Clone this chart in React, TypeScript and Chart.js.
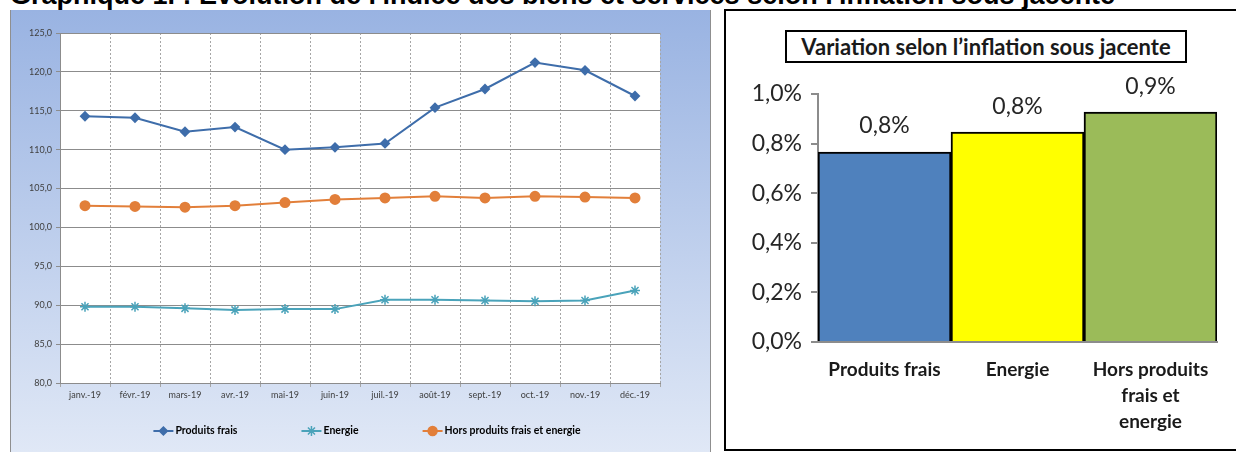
import React, { useEffect, useRef } from "react";
import { Chart, registerables } from "chart.js";
import { drawPoint } from "chart.js/helpers";

Chart.register(...registerables);

// ---------- Data: left line chart ----------
const months = [
  "janv.-19", "févr.-19", "mars-19", "avr.-19", "mai-19", "juin-19",
  "juil.-19", "août-19", "sept.-19", "oct.-19", "nov.-19", "déc.-19",
];
const produitsFrais = [114.3, 114.1, 112.3, 112.9, 110.0, 110.3, 110.8, 115.4, 117.8, 121.2, 120.2, 116.9];
const energie = [89.8, 89.8, 89.6, 89.4, 89.5, 89.5, 90.7, 90.7, 90.6, 90.5, 90.6, 91.9];
const horsProduits = [102.8, 102.7, 102.6, 102.8, 103.2, 103.6, 103.8, 104.0, 103.8, 104.0, 103.9, 103.8];
const lineSeriesNames = ["Produits frais", "Energie", "Hors produits frais et energie"];
const leftYMin = 80;
const leftYMax = 125;
const leftYStep = 5;

// ---------- Data: right bar chart ----------
const barCategories = [["Produits frais"], ["Energie"], ["Hors produits", "frais et", "energie"]];
const barValues = [0.766, 0.846, 0.927];
const rightYMin = 0;
const rightYMax = 1.0;
const rightYStep = 0.2;

const pageTitle =
  "Graphique 1. : Evolution de l'indice des biens et services selon l'inflation sous jacente";
const barTitle = "Variation selon l’inflation sous jacente";

const FONT = "Lato, 'Open Sans', sans-serif";

const fmtComma = (v: number, d: number) => v.toFixed(d).replace(".", ",");

const plotBg = {
  id: "plotBg",
  beforeDraw(chart: any) {
    const { ctx, chartArea: a } = chart;
    ctx.save();
    ctx.fillStyle = "#ffffff";
    ctx.fillRect(a.left, a.top, a.right - a.left, a.bottom - a.top);
    ctx.restore();
  },
};

const lineLegend = {
  id: "lineLegend",
  afterDraw(chart: any) {
    const { ctx, chartArea: a } = chart;
    const ds = chart.data.datasets;
    ctx.save();
    ctx.font = `bold 10.5px ${FONT}`;
    ctx.textBaseline = "middle";
    const lineW = 20;
    const gap = 2;
    const spacing = 64;
    const widths = ds.map((d: any) => lineW + gap + ctx.measureText(d.label).width);
    const total = widths.reduce((s: number, w: number) => s + w, 0) + spacing * (ds.length - 1);
    let x = (a.left + a.right) / 2 + 7 - total / 2;
    const y = a.bottom + 48;
    ds.forEach((d: any, i: number) => {
      ctx.strokeStyle = d.borderColor;
      ctx.lineWidth = 2;
      ctx.beginPath();
      ctx.moveTo(x, y);
      ctx.lineTo(x + lineW, y);
      ctx.stroke();
      ctx.fillStyle = d.pointBackgroundColor;
      ctx.strokeStyle = d.pointBorderColor;
      ctx.lineWidth = 1.5;
      drawPoint(ctx, { pointStyle: d.pointStyle, radius: d.pointRadius, rotation: 0, borderWidth: 1.5 }, x + lineW / 2, y);
      ctx.fillStyle = "#000000";
      ctx.fillText(d.label, x + lineW + gap, y);
      x += widths[i] + spacing;
    });
    ctx.restore();
  },
};

const barValueLabels = {
  id: "barValueLabels",
  afterDatasetsDraw(chart: any) {
    const { ctx } = chart;
    const meta = chart.getDatasetMeta(0);
    const data = chart.data.datasets[0].data;
    ctx.save();
    ctx.font = `23px ${FONT}`;
    ctx.fillStyle = "#262626";
    ctx.textAlign = "center";
    ctx.textBaseline = "middle";
    meta.data.forEach((bar: any, i: number) => {
      ctx.fillText(fmtComma(data[i], 1) + "%", bar.x, bar.y - 26);
    });
    ctx.restore();
  },
};

function LineChart() {
  const ref = useRef<HTMLCanvasElement | null>(null);
  useEffect(() => {
    if (!ref.current) return;
    const chart = new Chart(ref.current, {
      type: "line",
      data: {
        labels: months,
        datasets: [
          {
            label: lineSeriesNames[0],
            data: produitsFrais,
            borderColor: "#3E6DAA",
            backgroundColor: "#3E6DAA",
            pointBackgroundColor: "#3E6DAA",
            pointBorderColor: "#3E6DAA",
            pointStyle: "rectRot",
            pointRadius: 4,
            borderWidth: 2,
            tension: 0,
          },
          {
            label: lineSeriesNames[1],
            data: energie,
            borderColor: "#4AA3BA",
            backgroundColor: "#4AA3BA",
            pointBackgroundColor: "#4AA3BA",
            pointBorderColor: "#4AA3BA",
            pointStyle: "star",
            pointRadius: 5,
            pointBorderWidth: 1.5,
            borderWidth: 2,
            tension: 0,
          },
          {
            label: lineSeriesNames[2],
            data: horsProduits,
            borderColor: "#E27F3A",
            backgroundColor: "#E27F3A",
            pointBackgroundColor: "#E27F3A",
            pointBorderColor: "#E27F3A",
            pointStyle: "circle",
            pointRadius: 4.5,
            borderWidth: 2,
            tension: 0,
          },
        ],
      },
      options: {
        animation: false,
        responsive: true,
        maintainAspectRatio: false,
        layout: { padding: { top: 23, right: 50, left: 0, bottom: 0 } },
        plugins: { legend: { display: false }, tooltip: { enabled: false } },
        scales: {
          x: {
            type: "category",
            offset: true,
            grid: {
              offset: true,
              color: "#a6a6a6",
              lineWidth: 1,
              tickLength: 4,
            },
            border: { color: "#8c8c8c", width: 1, dash: [2, 2] },
            ticks: { color: "#404040", font: { family: FONT, size: 9 }, padding: 3, maxRotation: 0 },
            afterFit(s: any) {
              s.height = 69;
              s.paddingLeft = 0;
              s.paddingRight = 0;
            },
          },
          y: {
            min: leftYMin,
            max: leftYMax,
            grid: { color: "#8c8c8c", lineWidth: 1, tickLength: 4 },
            border: { color: "#8c8c8c", width: 1 },
            ticks: {
              stepSize: leftYStep,
              color: "#404040",
              font: { family: FONT, size: 9 },
              padding: 4,
              callback: (v: any) => fmtComma(Number(v), 1),
            },
            afterFit(s: any) {
              s.width = 49;
              s.paddingTop = 0;
              s.paddingBottom = 0;
            },
          },
        },
      },
      plugins: [plotBg, lineLegend],
    });
    return () => chart.destroy();
  }, []);
  return <canvas ref={ref} />;
}

function BarChart() {
  const ref = useRef<HTMLCanvasElement | null>(null);
  useEffect(() => {
    if (!ref.current) return;
    const chart = new Chart(ref.current, {
      type: "bar",
      data: {
        labels: barCategories,
        datasets: [
          {
            data: barValues,
            backgroundColor: ["#4F81BD", "#FFFF00", "#9BBB59"],
            borderColor: "#000000",
            borderWidth: 2,
            barPercentage: 1,
            categoryPercentage: 1,
          },
        ],
      },
      options: {
        animation: false,
        responsive: true,
        maintainAspectRatio: false,
        layout: { padding: { top: 83, right: 19, left: 0, bottom: 0 } },
        plugins: { legend: { display: false }, tooltip: { enabled: false } },
        scales: {
          x: {
            grid: { display: false, drawTicks: false },
            border: { color: "#8c8c8c", width: 2 },
            ticks: {
              color: "#1a1a1a",
              font: { family: FONT, size: 19, weight: "bold", lineHeight: 1.37 },
              padding: 15,
              maxRotation: 0,
            },
            afterFit(s: any) {
              s.height = 107;
              s.paddingLeft = 0;
              s.paddingRight = 0;
            },
          },
          y: {
            min: rightYMin,
            max: rightYMax,
            grid: { drawOnChartArea: false, drawTicks: true, tickLength: 7, color: "#8c8c8c", lineWidth: 2 },
            border: { color: "#8c8c8c", width: 2 },
            ticks: {
              stepSize: rightYStep,
              color: "#262626",
              font: { family: FONT, size: 23 },
              padding: 9,
              callback: (v: any) => fmtComma(Number(v), 1) + "%",
            },
            afterFit(s: any) {
              s.width = 92;
              s.paddingTop = 0;
              s.paddingBottom = 0;
            },
          },
        },
      },
      plugins: [barValueLabels],
    });
    return () => chart.destroy();
  }, []);
  return <canvas ref={ref} />;
}

export default function App() {
  return (
    <div
      style={{
        position: "absolute",
        left: 0,
        top: 0,
        width: 1236,
        height: 452,
        overflow: "hidden",
        background: "#ffffff",
      }}
    >
      <div
        style={{
          position: "absolute",
          left: 10,
          top: -20,
          whiteSpace: "nowrap",
          fontFamily: "'Liberation Sans', Arial, sans-serif",
          fontWeight: "bold",
          fontSize: 27,
          lineHeight: "normal",
          color: "#000",
        }}
      >
        {pageTitle}
      </div>
      <div
        style={{
          position: "absolute",
          left: 10,
          top: 10,
          width: 701,
          height: 442,
          boxSizing: "border-box",
          borderLeft: "1px solid #8f8f8f",
          borderRight: "1px solid #8f8f8f",
          background: "linear-gradient(to bottom, #99B3E2 0%, #E0E8F6 100%)",
        }}
      >
        <div style={{ position: "relative", width: 699, height: 442 }}>
          <LineChart />
        </div>
      </div>
      <div
        style={{
          position: "absolute",
          left: 724,
          top: 9,
          width: 516,
          height: 442,
          boxSizing: "border-box",
          border: "2px solid #000",
          background: "#fff",
        }}
      >
        <div style={{ position: "relative", width: 510, height: 438 }}>
          <BarChart />
        </div>
      </div>
      <div
        style={{
          position: "absolute",
          left: 785,
          top: 30,
          width: 402,
          height: 33,
          boxSizing: "border-box",
          border: "2px solid #000",
          background: "#fff",
          display: "flex",
          alignItems: "center",
          justifyContent: "center",
          fontFamily: FONT,
          fontWeight: "bold",
          fontSize: 22,
          color: "#1a1a1a",
          whiteSpace: "nowrap",
        }}
      >
        {barTitle}
      </div>
    </div>
  );
}
